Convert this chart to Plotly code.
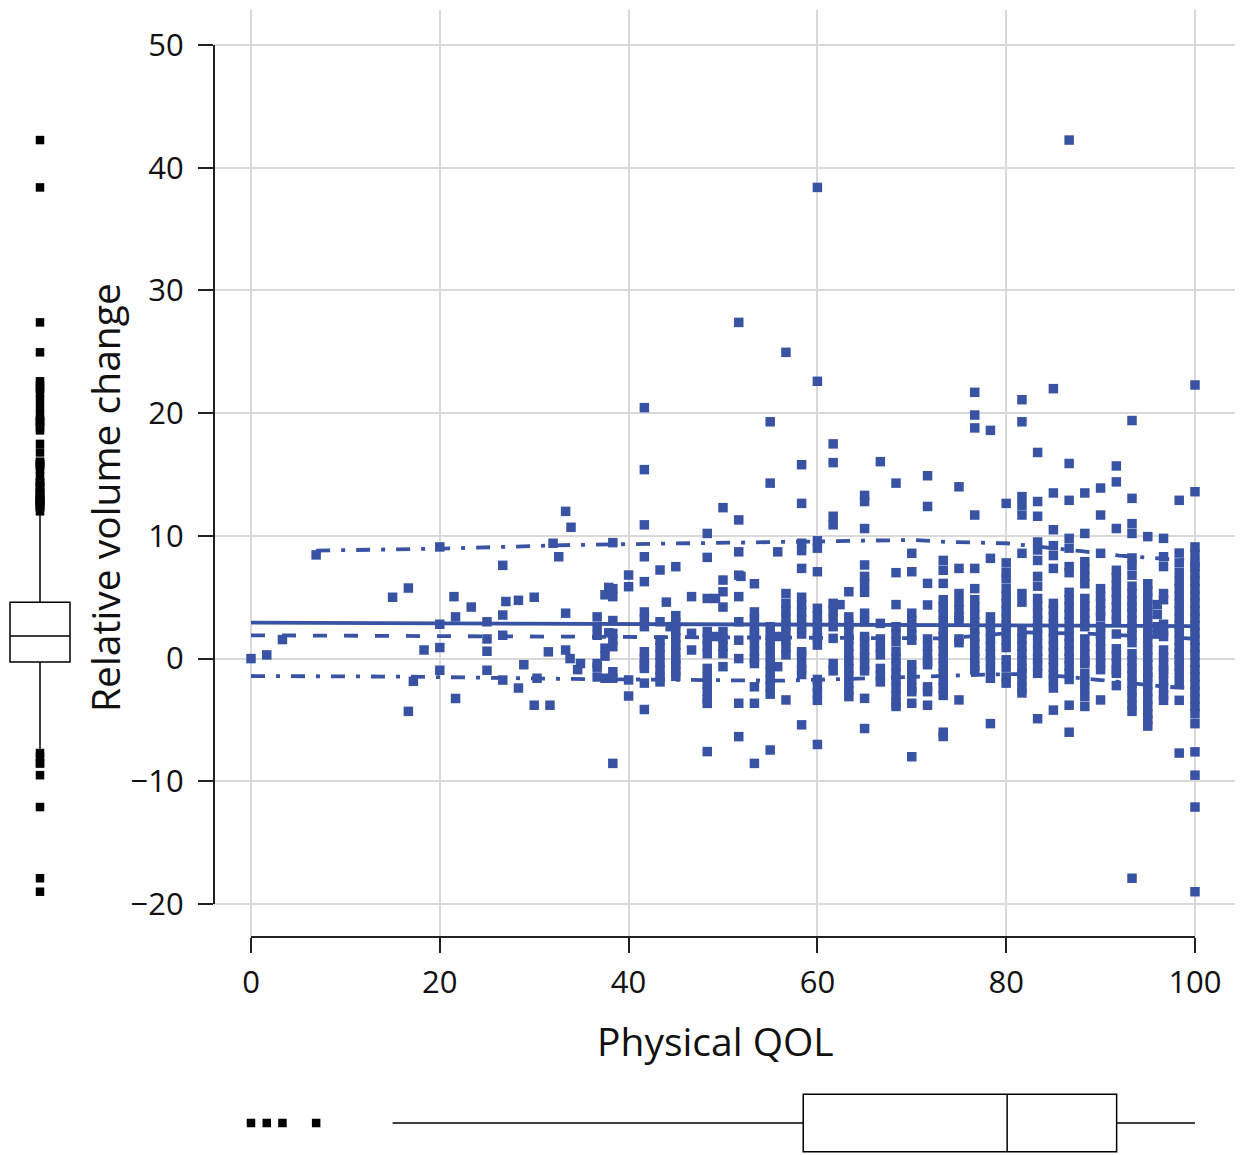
import plotly.graph_objects as go

# ---------------- data ----------------
# Physical QOL levels (columns) and the relative volume changes seen in each column
qol_cols = [38.33, 40.0, 41.67, 43.33, 45.0, 46.67, 48.33, 50.0, 51.67, 53.33,
            55.0, 56.67, 58.33, 60.0, 61.67, 63.33, 65.0, 66.67, 68.33, 70.0,
            71.67, 73.33, 75.0, 76.67, 78.33, 80.0, 81.67, 83.33, 85.0, 86.67,
            88.33, 90.0, 91.67, 93.33, 95.0, 96.67, 98.33, 100.0]
vol_cols = [
    [9.45, 5.7, 5.05, 3.1, 2.06, 1.5, 0.97, -1.07, -1.6, -8.54],
    [6.81, 5.86, -1.74, -3.05],
    [20.45, 15.4, 10.9, 8.3, 6.27, 3.8, 3.2, 2.6, 0.56, 0.0, -0.5, -0.8, -2.0, -4.15],
    [7.22, 3.0, 1.5, 0.9, 0.3, -0.3, -0.9, -1.5, -1.9],
    [7.49, 3.5, 2.9, 2.3, 1.7, 1.1, 0.5, -0.1, -0.5, -1.0, -1.45],
    [5.05, 2.06, 0.7],
    [10.2, 8.25, 4.9, 2.2, 1.6, 1.0, 0.4, -0.8, -1.5, -2.1, -2.7, -3.3, -3.65, -7.58],
    [12.3, 6.4, 5.45, 4.2, 2.2, 1.6, 1.0, 0.4, -0.66],
    [27.4, 11.3, 8.7, 6.8, 5.05, 3.0, 1.5, 0.0, -3.64, -6.36],
    [6.1, 3.8, 3.2, 2.6, 2.1, 1.8, 1.2, 0.6, 0.0, -0.4, -2.3, -3.64, -8.54],
    [19.3, 14.3, 2.6, 1.9, 1.5, 0.9, 0.2, -0.5, -1.1, -1.7, -2.3, -2.9, -7.45],
    [24.96, 5.3, 4.5, 3.9, 3.3, 2.7, 2.1, 1.5, 0.9, 0.3, -3.37],
    [15.8, 12.65, 9.4, 8.8, 7.35, 5.0, 4.4, 3.8, 3.2, 2.6, 2.0, 0.56, 0.3, -0.4, -0.9, -1.3, -5.4],
    [38.4, 22.6, 9.6, 9.0, 7.08, 4.1, 3.5, 2.9, 2.3, 1.7, 1.1, -1.7, -2.3, -2.8, -3.4, -7.0],
    [17.5, 15.97, 11.6, 10.9, 4.5, 3.9, 3.2, 2.6, 1.65, -0.4, -1.0],
    [5.45, 3.4, 2.8, 2.2, 1.6, 1.0, 0.4, -0.2, -0.8, -1.4, -2.0, -2.6, -3.1],
    [13.3, 12.8, 10.6, 7.63, 6.7, 6.1, 5.4, 3.7, 3.0, 1.8, 1.4, 0.7, 0.1, -0.5, -1.0, -3.24, -5.7],
    [16.05, 2.87, 1.6, 0.9, 0.3, -0.8, -1.4, -1.9],
    [14.3, 7.0, 4.4, 2.6, 2.0, 1.4, 0.6, 0.0, -0.6, -1.2, -1.8, -2.4, -3.0, -3.6, -3.9],
    [8.58, 7.08, 3.7, 3.1, 2.5, 1.9, 1.5, -0.5, -1.1, -1.7, -2.4, -2.7, -3.64, -8.0],
    [14.9, 12.4, 6.13, 4.37, 1.6, 1.0, 0.4, -0.2, -0.5, -2.3, -2.7, -3.8],
    [8.0, 7.2, 6.13, 4.8, 4.2, 3.6, 3.0, 2.4, 1.8, 1.2, 0.6, 0.0, -0.6, -1.2, -1.8, -2.4, -3.0, -6.0, -6.35],
    [14.0, 7.35, 5.3, 4.6, 4.0, 3.4, 3.1, 1.6, 1.3, -3.37],
    [21.7, 19.85, 18.8, 11.7, 7.35, 5.7, 4.8, 4.2, 3.6, 3.0, 2.4, 1.8, 1.2, 0.6, 0.0, -0.6, -0.9],
    [18.6, 8.17, 3.4, 2.8, 2.2, 1.6, 1.0, 0.4, -0.2, -0.9, -1.6, -5.3],
    [12.65, 7.8, 7.0, 6.5, 5.7, 5.1, 4.5, 3.9, 3.3, 2.7, 2.1, 1.5, 0.9, -0.1, -0.7, -1.5, -2.0],
    [21.1, 19.3, 13.2, 12.5, 11.7, 8.58, 5.3, 4.6, 2.2, 1.6, 1.0, 0.4, -0.2, -0.8, -1.2, -1.8, -2.4, -2.8],
    [16.8, 12.8, 11.6, 9.5, 8.85, 8.0, 6.7, 5.9, 4.9, 4.3, 3.7, 3.1, 2.5, 1.9, 1.2, 0.6, 0.0, -0.6, -1.2, -4.9],
    [22.0, 13.5, 10.5, 9.2, 8.4, 7.35, 4.5, 4.0, 3.4, 2.8, 2.2, 1.6, 1.0, 0.5, -0.1, -0.7, -1.3, -1.7, -2.4, -4.2],
    [42.26, 15.9, 12.9, 9.8, 9.0, 7.5, 7.0, 5.4, 4.8, 4.2, 3.6, 3.0, 2.4, 1.8, 1.2, 0.6, 0.0, -0.6, -1.2, -1.7, -3.8, -6.0],
    [13.5, 10.2, 7.9, 7.3, 6.7, 6.1, 4.9, 4.3, 3.7, 3.1, 2.6, 1.6, 1.0, 0.4, -0.2, -0.4, -1.2, -1.8, -2.4, -3.1, -3.9],
    [13.9, 11.7, 8.58, 5.7, 5.1, 4.5, 3.9, 3.4, 2.6, 2.0, 1.4, 0.8, 0.2, -0.4, -0.9, -3.37],
    [15.7, 14.4, 10.6, 7.2, 6.6, 6.0, 5.4, 4.8, 4.2, 3.6, 3.0, 2.0, 0.8, 0.2, -0.4, -0.9, -1.2, -2.2],
    [19.4, 13.06, 11.0, 10.2, 8.2, 7.6, 6.8, 5.9, 5.3, 4.7, 4.2, 3.7, 3.1, 2.5, 1.9, 1.3, 0.4, -0.2, -0.8,
     -1.4, -2.0, -2.6, -3.2, -3.8, -4.3, -17.9],
    [9.94, 6.1, 5.5, 4.9, 4.3, 3.7, 3.1, 2.5, 1.9, 1.3, 0.7, 0.1, -0.5, -1.1, -1.5, -2.1, -2.7, -3.3, -3.9,
     -4.5, -5.0, -5.5],
    [9.8, 8.3, 7.5, 5.3, 4.8, 2.8, 2.2, 1.8, 0.7, 0.1, -0.5, -0.9, -1.2, -1.8, -2.4, -3.0, -3.4],
    [12.9, 8.6, 7.8, 7.0, 6.3, 5.7, 5.1, 4.5, 3.9, 3.3, 2.7, 2.1, 1.5, 0.9, 0.4, -0.1, -0.6, -1.2, -1.9,
     -3.4, -7.7],
    [22.3, 13.6, 9.1, 8.5, 7.8, 7.5, 6.9, 6.3, 5.7, 5.1, 4.5, 3.9, 3.3, 2.7, 2.1, 1.5, 0.9, 0.3, -0.3, -0.9,
     -1.5, -2.1, -2.7, -3.3, -3.9, -4.5, -5.3, -7.6, -9.5, -12.1, -19.0],
]

# scattered points (low QOL and points between the columns)
qol_extra = [0.0, 1.67, 3.33, 6.9, 15.0, 16.67, 16.67, 17.2, 18.33, 20.0, 20.0, 20.0, 20.0,
             21.5, 21.67, 21.67, 23.33, 25.0, 25.0, 25.0, 25.0, 26.67, 27.0, 26.67, 26.67,
             26.67, 28.33, 28.33, 28.9, 30.0, 30.3, 30.0, 31.67, 31.5, 32.0, 32.6, 33.33,
             33.9, 33.33, 33.33, 33.8, 34.9, 34.6, 36.67, 36.67, 36.67, 36.67, 36.67, 36.67,
             37.5, 37.9, 37.5, 37.5, 37.5, 37.9, 44.0, 44.4, 49.2, 49.2, 51.9, 55.8, 55.8,
             55.8, 62.4, 96.0, 96.0, 96.0, 96.0]
vol_extra = [0.0, 0.3, 1.55, 8.45, 5.0, 5.75, -4.3, -1.85, 0.7, 9.1, 2.8, 0.9, -0.95,
             5.05, 3.4, -3.25, 4.2, 3.0, 1.6, 0.6, -0.95, 7.6, 4.65, 3.55, 1.9,
             -1.75, 4.75, -2.4, -0.5, 5.0, -1.6, -3.8, -3.8, 0.55, 9.4, 8.3, 12.0,
             10.7, 3.7, 0.7, 0.0, -0.4, -0.9, 3.4, 2.6, 1.9, -0.4, -0.7, -1.5,
             5.2, 5.8, 0.85, 0.2, -1.6, 2.1, 4.6, 2.6, 4.9, 1.8, 6.7, 8.7, 1.8,
             -0.66, 4.4, 4.4, 3.6, 2.6, 2.0]

# quartiles
qol_q1, qol_median, qol_q3 = 58.5, 80.1, 91.7
vol_q1, vol_median, vol_q3 = -0.28, 1.84, 4.6

# fitted curves: mean (solid), median (dashed), 10 % and 90 % quantiles (dash-dot)
fit_x = [0, 100]
fit_mean = [2.93, 2.65]
q50_x = [0, 20, 34, 50, 58, 66, 73, 78, 81, 85, 88, 93, 97, 100]
q50_y = [1.9, 1.82, 1.76, 1.74, 1.71, 1.65, 1.65, 1.9, 2.15, 2.08, 2.05, 1.88, 1.78, 1.6]
q90_x = [6.9, 20, 34, 50, 56, 62, 70, 74, 80, 84, 88, 92, 96, 100]
q90_y = [8.8, 8.96, 9.26, 9.4, 9.5, 9.57, 9.67, 9.5, 9.4, 9.1, 8.75, 8.4, 8.14, 7.95]
q10_x = [0, 16.5, 34, 50, 56, 63, 70, 74, 78, 82, 86, 90, 94, 97, 100]
q10_y = [-1.42, -1.47, -1.66, -1.74, -1.8, -1.66, -1.47, -1.39, -1.3, -1.25, -1.45, -1.75,
         -2.1, -2.3, -2.42]

# ---------------- build ----------------
qol = [x for x, col in zip(qol_cols, vol_cols) for _ in col] + qol_extra
vol = [v for col in vol_cols for v in col] + vol_extra


def whiskers(vals, q1, q3):
    iqr = q3 - q1
    lo = min(v for v in vals if v >= q1 - 1.5 * iqr)
    hi = max(v for v in vals if v <= q3 + 1.5 * iqr)
    out = [v for v in vals if v < lo or v > hi]
    return lo, hi, out


qol_lo, qol_hi, qol_out = whiskers(qol, qol_q1, qol_q3)
vol_lo, vol_hi, vol_out = whiskers(vol, vol_q1, vol_q3)

BLUE = '#3953a4'
FONT = 'Open Sans'
W, H = 1243, 1155

# pixel geometry of the main panel
PX_L, PX_R, PY_T, PY_B = 214, 1235, 10, 937
x_dom = [PX_L / W, PX_R / W]
y_dom = [1 - PY_B / H, 1 - PY_T / H]
x_rng = [-3.92, 104.24]
y_rng = [-22.69, 52.86]

fig = go.Figure()

line_w = 3.8
fig.add_trace(go.Scatter(x=fit_x, y=fit_mean, mode='lines',
                         line=dict(color=BLUE, width=line_w), showlegend=False))
fig.add_trace(go.Scatter(x=q50_x, y=q50_y, mode='lines',
                         line=dict(color=BLUE, width=line_w, dash='14px,17px'), showlegend=False))
fig.add_trace(go.Scatter(x=q90_x, y=q90_y, mode='lines',
                         line=dict(color=BLUE, width=line_w, dash='14px,11px,4px,11px'),
                         showlegend=False))
fig.add_trace(go.Scatter(x=q10_x, y=q10_y, mode='lines',
                         line=dict(color=BLUE, width=line_w, dash='14px,11px,4px,11px'),
                         showlegend=False))

fig.add_trace(go.Scatter(x=qol, y=vol, mode='markers',
                         marker=dict(symbol='square', size=9.5, color=BLUE, line=dict(width=0)),
                         showlegend=False))

# left marginal box (relative volume change)
fig.add_trace(go.Box(q1=[vol_q1], median=[vol_median], q3=[vol_q3],
                     lowerfence=[vol_lo], upperfence=[vol_hi], x=[0],
                     xaxis='x2', yaxis='y2', fillcolor='white', width=1.5,
                     line=dict(color='black', width=1.5), whiskerwidth=0,
                     boxpoints=False, showlegend=False, hoverinfo='skip'))
fig.add_trace(go.Scatter(x=[0] * len(vol_out), y=vol_out, mode='markers',
                         xaxis='x2', yaxis='y2',
                         marker=dict(symbol='square', size=8.5, color='black'),
                         showlegend=False))

# bottom marginal box (physical QOL)
fig.add_trace(go.Box(q1=[qol_q1], median=[qol_median], q3=[qol_q3],
                     lowerfence=[qol_lo], upperfence=[qol_hi], y=[0], orientation='h',
                     xaxis='x3', yaxis='y3', fillcolor='white', width=1.8,
                     line=dict(color='black', width=1.5), whiskerwidth=0,
                     boxpoints=False, showlegend=False, hoverinfo='skip'))
fig.add_trace(go.Scatter(x=qol_out, y=[0] * len(qol_out), mode='markers',
                         xaxis='x3', yaxis='y3',
                         marker=dict(symbol='square', size=8.5, color='black'),
                         showlegend=False))

axis_common = dict(showgrid=True, gridcolor='#d9d9d9', gridwidth=2, zeroline=False,
                   showline=False, ticks='outside', ticklen=15, tickwidth=2,
                   tickcolor='#222', tickfont=dict(family=FONT, size=31, color='#111'))

fig.update_layout(
    width=W, height=H,
    margin=dict(l=0, r=0, t=0, b=0),
    paper_bgcolor='white', plot_bgcolor='white',
    font=dict(family=FONT, color='#111'),
    xaxis=dict(domain=x_dom, range=x_rng, tickvals=[0, 20, 40, 60, 80, 100],
               anchor='y', ticklabelstandoff=3, **axis_common),
    yaxis=dict(domain=y_dom, range=y_rng, tickvals=[-20, -10, 0, 10, 20, 30, 40, 50],
               anchor='x', ticklabelstandoff=8, **axis_common),
    xaxis2=dict(domain=[0, 80 / W], range=[-1, 1], visible=False, anchor='y2'),
    yaxis2=dict(domain=y_dom, range=y_rng, visible=False, anchor='x2'),
    xaxis3=dict(domain=x_dom, range=x_rng, visible=False, anchor='y3'),
    yaxis3=dict(domain=[0, 64 / H], range=[-1, 1], visible=False, anchor='x3'),
    shapes=[
        dict(type='line', xref='paper', yref='y', x0=x_dom[0], x1=x_dom[0], y0=-20, y1=50,
             line=dict(color='#222', width=2)),
        dict(type='line', xref='x', yref='paper', x0=0, x1=100, y0=y_dom[0], y1=y_dom[0],
             line=dict(color='#222', width=2)),
    ],
    annotations=[
        dict(text='Physical QOL', xref='paper', yref='paper', x=715 / W, y=1 - 1040 / H,
             showarrow=False, font=dict(family=FONT, size=39, color='#111'),
             xanchor='center', yanchor='middle'),
        dict(text='Relative volume change', xref='paper', yref='paper', x=105 / W,
             y=1 - 498 / H, textangle=-90, showarrow=False,
             font=dict(family=FONT, size=39, color='#111'),
             xanchor='center', yanchor='middle'),
    ],
)

fig.write_html('out.html', config={'displayModeBar': False},
               post_script="document.body.style.margin='0px';")
